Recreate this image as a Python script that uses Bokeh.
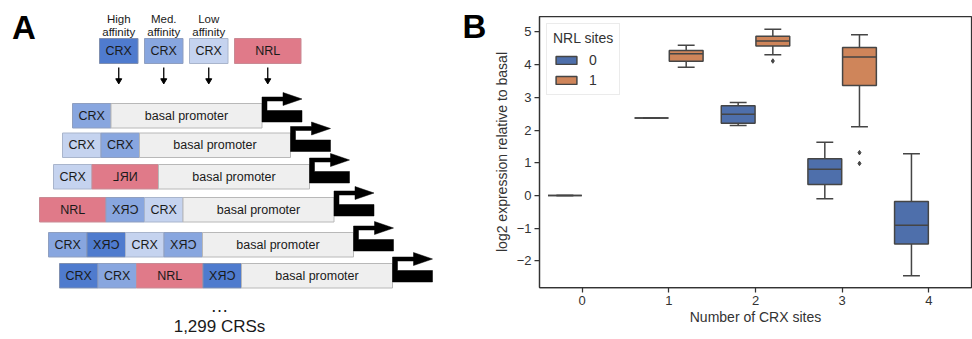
from bokeh.plotting import figure
from bokeh.layouts import row
from bokeh.models import Range1d, FixedTicker, Legend, LegendItem
from bokeh.core.properties import value
from bokeh.embed import file_html
from bokeh.resources import INLINE

FONT = "Liberation Sans"

# ---------------- Panel A data ----------------
header_sites = ["H", "M", "L", "N"]
header_line1 = ["High", "Med.", "Low", ""]
header_line2 = ["affinity", "affinity", "affinity", ""]
# site codes: H/M/L = CRX high/medium/low affinity, N = NRL, suffix "r" = reverse orientation
constructs = [
    ["M"],
    ["L", "M"],
    ["L", "Nr"],
    ["N", "Mr", "L"],
    ["M", "Hr", "L", "Mr"],
    ["H", "M", "N", "Hr"],
]
site_text = {"H": "CRX", "M": "CRX", "L": "CRX", "N": "NRL"}
site_text_rev = {"H": "XЯƆ", "M": "XЯƆ", "L": "XЯƆ", "N": "⅃ЯИ"}
promoter_label = "basal promoter"
ellipsis_label = "…"
footer_label = "1,299 CRSs"
panel_labels = ["A", "B"]

# ---------------- Panel B data ----------------
crx_sites = [0, 1, 1, 2, 2, 3, 3, 4]
nrl_sites = [0, 0, 1, 0, 1, 0, 1, 0]
q1 = [0.0, 2.37, 4.10, 2.21, 4.57, 0.34, 3.36, -1.48]
median = [0.0, 2.37, 4.33, 2.48, 4.72, 0.80, 4.23, -0.91]
q3 = [0.0, 2.37, 4.43, 2.74, 4.87, 1.12, 4.52, -0.18]
whisker_low = [0.0, 2.37, 3.92, 2.14, 4.30, -0.10, 2.10, -2.45]
whisker_high = [0.0, 2.37, 4.59, 2.84, 5.08, 1.63, 4.91, 1.28]
outlier_crx = [2, 3, 3]
outlier_nrl = [1, 1, 1]
outlier_val = [4.11, 1.31, 0.98]
x_ticks = [0, 1, 2, 3, 4]
y_ticks = [-2, -1, 0, 1, 2, 3, 4, 5]
y_tick_labels = ["−2", "−1", "0", "1", "2", "3", "4", "5"]
nrl_levels = [0, 1]

# ---------------- styles / layout ----------------
site_fill = {"H": "#4f7bce", "M": "#88a6df", "L": "#c5d3ef", "N": "#e07a89"}
site_line = {"H": "#7f8fb0", "M": "#8f9fc0", "L": "#a9b5cc", "N": "#c98a94"}
PROM_FILL, PROM_LINE = "#efefef", "#b8b8b8"
CRX_W, NRL_W, PROM_W, ROW_H = 38.5, 66.5, 151.0, 24.5
row_left = [72, 62, 53, 39, 48, 59]
row_top = [103, 132.5, 164, 197, 232, 263]
HEAD_LEFT, HEAD_GAP, HEAD_TOP, HEAD_H = 99, 6.5, 38, 25

box_fill = {0: "#4e6fab", 1: "#cf855a"}
EDGE = "#454545"
BOX_W = 0.39
HUE_OFF = {0: -0.2, 1: 0.2}

# ================= Panel A =================
pA = figure(width=490, height=339, x_range=Range1d(0, 490), y_range=Range1d(339, 0),
            x_axis_type=None, y_axis_type=None, min_border=0,
            toolbar_location=None, output_backend="svg")
pA.frame_align = False
pA.grid.visible = False
pA.outline_line_color = None

def wid(k):
    return NRL_W if k == "N" else CRX_W

# header
hq = dict(left=[], right=[], fill=[], line=[])
hx = []
x = HEAD_LEFT
for s in header_sites:
    w = wid(s)
    hq["left"].append(x); hq["right"].append(x + w)
    hq["fill"].append(site_fill[s]); hq["line"].append(site_line[s])
    hx.append(x + w / 2)
    x += w + HEAD_GAP
pA.quad(left=hq["left"], right=hq["right"], top=[HEAD_TOP] * 4, bottom=[HEAD_TOP + HEAD_H] * 4,
        fill_color=hq["fill"], line_color=hq["line"], line_width=1)
pA.text(x=hx, y=[HEAD_TOP + HEAD_H / 2] * 4, text=[site_text[s] for s in header_sites],
        text_font=value(FONT), text_font_size="12.5px", text_color="#1a1a1a",
        text_align="center", text_baseline="middle")
pA.text(x=hx, y=[HEAD_TOP - 20] * 4, text=header_line1, text_font=value(FONT),
        text_font_size="11.5px", text_color="#1a1a1a", text_align="center", text_baseline="middle")
pA.text(x=hx, y=[HEAD_TOP - 7] * 4, text=header_line2, text_font=value(FONT),
        text_font_size="11.5px", text_color="#1a1a1a", text_align="center", text_baseline="middle")
# down arrows
a_top = HEAD_TOP + HEAD_H + 4
pA.segment(x0=hx, y0=[a_top] * 4, x1=hx, y1=[a_top + 12] * 4, line_color="black", line_width=1.3)
pA.scatter(x=hx, y=[a_top + 13] * 4, marker="inverted_triangle", size=6,
           fill_color="black", line_color="black")

# constructs
q = dict(left=[], right=[], top=[], bottom=[], fill=[], line=[])
t = dict(x=[], y=[], text=[])
arrows_x, arrows_y = [], []
for sites, x0, y0 in zip(constructs, row_left, row_top):
    x = x0
    y1 = y0 + ROW_H
    for s in sites:
        k, rev = s[0], s.endswith("r")
        w = wid(k)
        q["left"].append(x); q["right"].append(x + w); q["top"].append(y0); q["bottom"].append(y1)
        q["fill"].append(site_fill[k]); q["line"].append(site_line[k])
        t["x"].append(x + w / 2); t["y"].append(y0 + ROW_H / 2)
        t["text"].append(site_text_rev[k] if rev else site_text[k])
        x += w
    q["left"].append(x); q["right"].append(x + PROM_W); q["top"].append(y0); q["bottom"].append(y1)
    q["fill"].append(PROM_FILL); q["line"].append(PROM_LINE)
    t["x"].append(x + PROM_W / 2); t["y"].append(y0 + ROW_H / 2); t["text"].append(promoter_label)
    s0 = x + PROM_W
    ym = y0 - 4.5
    arrows_x.append([s0, s0 + 21, s0 + 21, s0 + 40, s0 + 21, s0 + 21, s0 + 5, s0 + 5, s0 + 40, s0 + 40, s0])
    arrows_y.append([ym - 2, ym - 2, ym - 6.5, ym, ym + 6.5, ym + 2, ym + 2, y0 + 7, y0 + 7, y1 - 6, y1 - 6])
pA.quad(left=q["left"], right=q["right"], top=q["top"], bottom=q["bottom"],
        fill_color=q["fill"], line_color=q["line"], line_width=1)
pA.text(x=t["x"], y=t["y"], text=t["text"], text_font=value(FONT), text_font_size="12.5px",
        text_color="#1a1a1a", text_align="center", text_baseline="middle")
pA.patches(xs=arrows_x, ys=arrows_y, fill_color="black", line_color="black", line_width=0.5)

pA.text(x=[219], y=[305], text=[ellipsis_label], text_font=value(FONT), text_font_size="18px",
        text_color="#1a1a1a", text_align="center", text_baseline="middle")
pA.text(x=[219], y=[326], text=[footer_label], text_font=value(FONT), text_font_size="17px",
        text_color="#1a1a1a", text_align="center", text_baseline="middle")
pA.text(x=[23.5, 474], y=[27, 26], text=panel_labels, text_font=value(FONT), text_font_size="33px",
        text_font_style="bold", text_color="black", text_align="center", text_baseline="middle")

# ================= Panel B =================
pB = figure(width=482, height=339, x_range=Range1d(-0.493, 4.493), y_range=Range1d(-2.81, 5.47),
            min_border_left=46, min_border_right=1, min_border_top=16, min_border_bottom=52,
            toolbar_location=None, output_backend="svg")
pB.frame_align = False
pB.grid.visible = False
pB.outline_line_color = "#333333"
pB.outline_line_width = 1.25

items = []
for h in nrl_levels:
    idx = [i for i, n in enumerate(nrl_sites) if n == h]
    xs = [crx_sites[i] + HUE_OFF[h] for i in idx]
    lo = [whisker_low[i] for i in idx]
    hi = [whisker_high[i] for i in idx]
    b = [q1[i] for i in idx]
    tp = [q3[i] for i in idx]
    md = [median[i] for i in idx]
    pB.segment(x0=xs, y0=lo, x1=xs, y1=b, line_color=EDGE, line_width=1.5)
    pB.segment(x0=xs, y0=tp, x1=xs, y1=hi, line_color=EDGE, line_width=1.5)
    pB.segment(x0=[v - BOX_W / 4 for v in xs], y0=lo, x1=[v + BOX_W / 4 for v in xs], y1=lo,
               line_color=EDGE, line_width=1.5)
    pB.segment(x0=[v - BOX_W / 4 for v in xs], y0=hi, x1=[v + BOX_W / 4 for v in xs], y1=hi,
               line_color=EDGE, line_width=1.5)
    r = pB.vbar(x=xs, bottom=b, top=tp, width=BOX_W, fill_color=box_fill[h],
                line_color=EDGE, line_width=1.5)
    pB.segment(x0=[v - BOX_W / 2 for v in xs], y0=md, x1=[v + BOX_W / 2 for v in xs], y1=md,
               line_color=EDGE, line_width=1.5)
    items.append(LegendItem(label=str(h), renderers=[r]))

pB.scatter(x=[c + HUE_OFF[n] for c, n in zip(outlier_crx, outlier_nrl)], y=outlier_val,
           marker="diamond", size=4.5, fill_color=EDGE, line_color=EDGE)

legend = Legend(items=items, location="top_left", title="NRL sites")
legend.title_text_font = FONT
legend.title_text_font_size = "14px"
legend.title_text_font_style = "normal"
legend.title_text_color = "#333333"
legend.label_text_font = FONT
legend.label_text_font_size = "14px"
legend.label_text_color = "#333333"
legend.glyph_width = 26
legend.glyph_height = 10
legend.label_standoff = 10
legend.label_height = 14
legend.padding = 6
legend.spacing = 4
legend.margin = 7
legend.title_standoff = 6
legend.border_line_color = "#d8d8d8"
legend.border_line_width = 1
pB.add_layout(legend)

for ax in (pB.xaxis[0], pB.yaxis[0]):
    ax.axis_line_color = "#333333"
    ax.axis_line_width = 1.25
    ax.major_tick_line_color = "#333333"
    ax.major_tick_line_width = 1.25
    ax.major_tick_in = 0
    ax.major_tick_out = 5
    ax.minor_tick_line_color = None
    ax.major_label_text_font = FONT
    ax.major_label_text_font_size = "13px"
    ax.major_label_text_color = "#333333"
    ax.major_label_standoff = 3
    ax.axis_label_text_font = FONT
    ax.axis_label_text_font_size = "14px"
    ax.axis_label_text_font_style = "normal"
    ax.axis_label_text_color = "#333333"
    ax.axis_label_standoff = 4

pB.xaxis.ticker = FixedTicker(ticks=x_ticks)
pB.yaxis.ticker = FixedTicker(ticks=y_ticks)
pB.yaxis.major_label_overrides = {t_: lab for t_, lab in zip(y_ticks, y_tick_labels)}
pB.xaxis.axis_label = "Number of CRX sites"
pB.yaxis.axis_label = "log2 expression relative to basal"
pB.xaxis.axis_label_standoff = 1

layout = row(pA, pB)
open("out.html", "w").write(file_html(layout, INLINE))
